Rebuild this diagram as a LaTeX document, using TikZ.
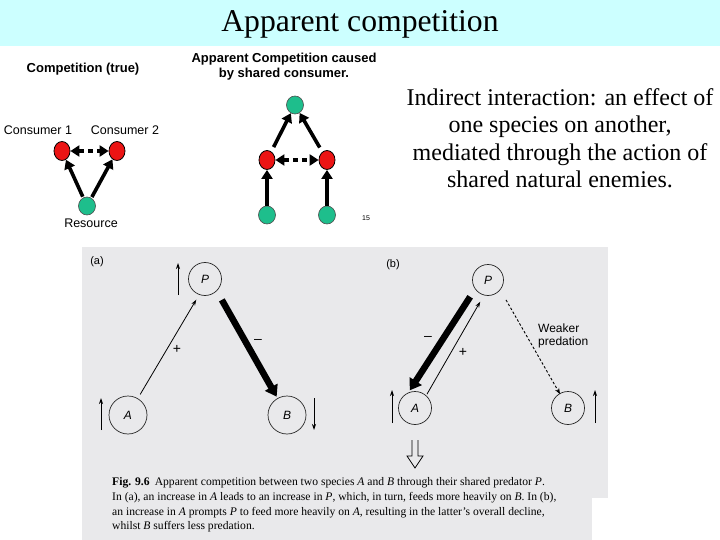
\documentclass[tikz,border=0pt]{standalone}
\usepackage{fontspec}
\setmainfont{Liberation Serif}
\setsansfont{Liberation Sans}
\usetikzlibrary{shapes.geometric,arrows.meta,calc}
\definecolor{barcyan}{RGB}{204,255,255}
\definecolor{nodered}{RGB}{235,20,20}
\definecolor{nodegreen}{RGB}{30,190,140}
\definecolor{scangray}{RGB}{233,233,235}
\begin{document}
\begin{tikzpicture}[x=1pt,y=-1pt,
  rednode/.style={ellipse,draw=black,line width=0.8pt,fill=nodered,minimum width=16pt,minimum height=19pt,inner sep=0pt},
  greennode/.style={ellipse,draw=black!70,line width=0.6pt,fill=nodegreen,minimum width=17pt,minimum height=18pt,inner sep=0pt},
  fatarrow/.style={line width=3.6pt,-{Triangle[length=9pt,width=11pt]}},
  dasharrow/.style={line width=3.6pt,dash pattern=on 5pt off 4pt,{Triangle[length=9pt,width=11pt]}-{Triangle[length=9pt,width=11pt]}},
  lbl/.style={font=\sffamily\fontsize{12.5}{14}\selectfont,inner sep=0pt},
  hd/.style={font=\sffamily\bfseries\fontsize{13}{15}\selectfont,inner sep=0pt,align=center},
  circ/.style={circle,draw=black!85,line width=0.7pt,inner sep=0pt,font=\sffamily\itshape\fontsize{12}{14}\selectfont},
  thinarr/.style={line width=0.8pt,-{Stealth[length=6pt,width=4pt]}},
  bigarr/.style={line width=6.5pt,-{Triangle[length=11pt,width=14pt]}},
  sign/.style={font=\sffamily\fontsize{14}{16}\selectfont,inner sep=0pt},
  small/.style={font=\sffamily\fontsize{12}{13.5}\selectfont,inner sep=0pt},
  capfont/.style={font=\fontsize{11.6}{13}\selectfont,inner sep=0pt}
]
\useasboundingbox (0,0) rectangle (720,540);
\fill[white] (0,0) rectangle (720,540);
\fill[barcyan] (0,0) rectangle (720,46);
\node[font=\fontsize{31.7}{33}\selectfont,inner sep=0pt] (title) at (360,24) {Apparent competition};

% right description
\node[align=center,font=\fontsize{24}{27.5}\selectfont,inner sep=0pt] (desc) at (560,138)
  {Indirect interaction: an effect of\\one species on another,\\mediated through the action of\\shared natural enemies.};

% top-left: true competition
\node[hd] (h1) at (83,69) {Competition (true)};
\node[lbl] (l1) at (38,130) {Consumer 1};
\node[lbl] (l2) at (125,130) {Consumer 2};
\node[rednode] (c1) at (62,151) {};
\node[rednode] (c2) at (117,151) {};
\node[greennode] (res) at (87,206) {};
\node[lbl] (l3) at (91,223) {Resource};
\draw[fatarrow,shorten <=1pt] (res) -- (c1);
\draw[fatarrow,shorten <=1pt] (res) -- (c2);
\draw[dasharrow] (c1) -- (c2);

% top-middle: apparent competition
\node[hd] (h2) at (284,67) {Apparent Competition caused\\by shared consumer.};
\node[greennode] (g0) at (295,105) {};
\node[rednode] (r1) at (267,160) {};
\node[rednode] (r2) at (327,160) {};
\node[greennode] (g1) at (267,215) {};
\node[greennode] (g2) at (327,215) {};
\draw[fatarrow,shorten <=5pt] (r1) -- (g0);
\draw[fatarrow,shorten <=5pt] (r2) -- (g0);
\draw[fatarrow] (g1) -- (r1);
\draw[fatarrow] (g2) -- (r2);
\draw[dasharrow] (r1) -- (r2);
\node[font=\sffamily\fontsize{7}{8}\selectfont,inner sep=0pt] (pg) at (366,218) {15};

% scanned figure background
\fill[scangray] (82,247) rectangle (608,498);
\fill[scangray] (82,498) rectangle (592,540);

% panel (a)
\node[font=\sffamily\fontsize{11}{12}\selectfont,inner sep=0pt] (la) at (97,262) {(a)};
\node[circ,minimum size=33pt] (Pa) at (205,279) {P};
\node[circ,minimum size=38pt] (Aa) at (128,415) {A};
\node[circ,minimum size=38pt] (Ba) at (287,415) {B};
\coordinate (pa1) at (178,295); \coordinate (pa2) at (178,263);
\coordinate (aa1) at (101,430); \coordinate (aa2) at (101,398);
\coordinate (ba1) at (314,398); \coordinate (ba2) at (314,430);
\draw[thinarr] (pa1) -- (pa2);
\draw[thinarr] (aa1) -- (aa2);
\draw[thinarr] (ba1) -- (ba2);
\draw[thinarr,shorten <=24pt,shorten >=24pt] (Aa.center) -- ([xshift=3.5pt]Pa.center);
\draw[bigarr,shorten <=24pt,shorten >=21pt] ([xshift=5pt]Pa.center) -- (Ba.center);
\node[sign] (plusa) at (177,349) {+};
\node[sign] (minusa) at (258,341) {\textendash};

% panel (b)
\node[font=\sffamily\fontsize{11}{12}\selectfont,inner sep=0pt] (lb) at (393,265) {(b)};
\node[circ,minimum size=31pt] (Pb) at (488,280) {P};
\node[circ,minimum size=33pt] (Ab) at (415,408) {A};
\node[circ,minimum size=33pt] (Bb) at (568,408) {B};
\coordinate (ab1) at (392,423); \coordinate (ab2) at (392,390);
\coordinate (bb1) at (595,423); \coordinate (bb2) at (595,390);
\draw[thinarr] (ab1) -- (ab2);
\draw[thinarr] (bb1) -- (bb2);
\draw[bigarr,shorten <=20pt,shorten >=21pt] ([xshift=-7pt]Pb.center) -- ([xshift=-16.6pt]Ab.center);
\draw[thinarr,shorten <=16pt,shorten >=25pt] ([xshift=4pt]Ab.center) -- ([xshift=4.7pt]Pb.center);
\draw[line width=0.9pt,dash pattern=on 2.5pt off 2pt,-{Stealth[length=6pt,width=4.5pt]},shorten <=23pt,shorten >=16pt] ([xshift=6.6pt]Pb.center) -- (Bb.center);
\node[sign] (minusb) at (428,338) {\textendash};
\node[sign] (plusb) at (463,352) {+};
\node[small,align=left,anchor=west] (weak) at (538,336) {Weaker\\predation};
% hollow decline arrow
\coordinate (dd) at (415,440);
\draw[line width=0.8pt,line join=miter] ($(dd)+(-3,0)$) -- ($(dd)+(-3,16)$) -- ($(dd)+(-8,16)$) -- ($(dd)+(0,28)$) -- ($(dd)+(8,16)$) -- ($(dd)+(3,16)$) -- ($(dd)+(3,0)$);

% caption
\node[capfont,anchor=base west] (cap1) at (112,485) {\textbf{Fig. 9.6}\hspace{0.45em}Apparent competition between two species \textit{A} and \textit{B} through their shared predator \textit{P}.};
\node[capfont,anchor=base west] (cap2) at (112,500) {In (a), an increase in \textit{A} leads to an increase in \textit{P}, which, in turn, feeds more heavily on \textit{B}. In (b),};
\node[capfont,anchor=base west] (cap3) at (112,515) {an increase in \textit{A} prompts \textit{P} to feed more heavily on \textit{A}, resulting in the latter's overall decline,};
\node[capfont,anchor=base west] (cap4) at (112,529) {whilst \textit{B} suffers less predation.};
\end{tikzpicture}
\end{document}
